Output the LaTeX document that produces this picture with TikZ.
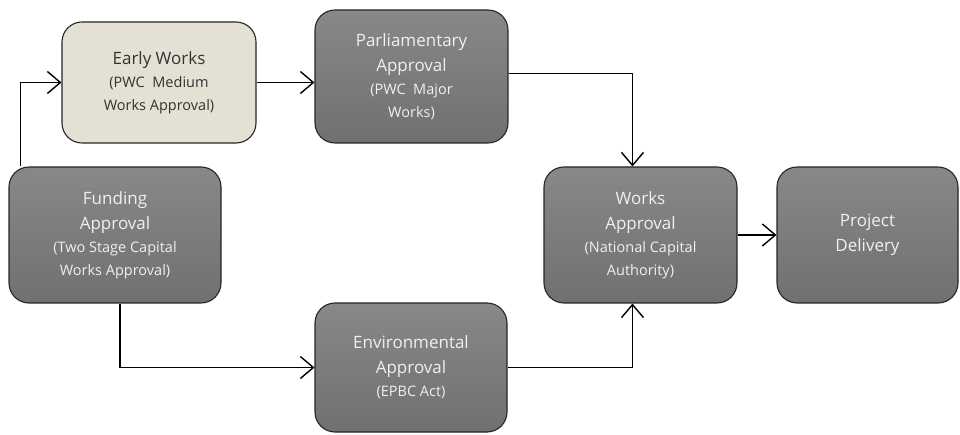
\documentclass[tikz,border=0pt]{standalone}
\usepackage{fontspec}
\setmainfont{Open Sans}
\usetikzlibrary{arrows.meta}
\definecolor{boxtop}{RGB}{136,136,136}
\definecolor{boxbot}{RGB}{112,112,112}
\definecolor{beige}{RGB}{229,224,212}
\definecolor{lighttext}{RGB}{240,240,240}
\newcommand{\mainsz}{\fontsize{17}{25}\selectfont}
\newcommand{\subsz}{\fontsize{14.5}{24}\selectfont}
\tikzset{
  box/.style={draw=black!85, line width=1.1pt, rounded corners=20pt, align=center,
    inner sep=2pt, font=\mainsz},
  darkbox/.style={box, top color=boxtop, bottom color=boxbot, text=lighttext},
  lightbox/.style={box, fill=beige, text=black!80},
  arr/.style={draw=black, line width=1.5pt, -{Straight Barb[length=13pt,width=22pt,line width=1.4pt]}}
}
\begin{document}
\begin{tikzpicture}[x=1pt,y=-1pt]
\useasboundingbox (0,0) rectangle (960,435);
\node[lightbox, minimum width=194pt, minimum height=121pt] (early) at (159,82.5)
  {Early Works\\[-2pt]{\subsz(PWC\ \ Medium}\\[-2pt]{\subsz Works Approval)}};
\node[darkbox, minimum width=193pt, minimum height=133pt] (parl) at (411.5,76.5)
  {Parliamentary\\Approval\\[-2pt]{\subsz(PWC\ \ Major}\\[-2pt]{\subsz Works)}};
\node[darkbox, minimum width=212pt, minimum height=136pt] (fund) at (115,235)
  {Funding\\Approval\\[-2pt]{\subsz(Two Stage Capital}\\[-2pt]{\subsz Works Approval)}};
\node[darkbox, minimum width=192pt, minimum height=129pt] (env) at (411,367.5)
  {Environmental\\Approval\\[-2pt]{\subsz(EPBC Act)}};
\node[darkbox, minimum width=193pt, minimum height=136pt] (works) at (640.5,235)
  {Works\\Approval\\[-2pt]{\subsz(National Capital}\\[-2pt]{\subsz Authority)}};
\node[darkbox, minimum width=181pt, minimum height=136pt] (deliv) at (867.5,235)
  {Project\\Delivery};
\draw[arr] ([xshift=12pt]fund.north west) |- (early.west);
\draw[arr] (early.east) -- (early.east -| parl.west);
\draw[arr] ([yshift=3pt]parl.east) -| ([xshift=-8pt]works.north);
\draw[arr] ([xshift=5pt]fund.south) |- (env.west);
\draw[arr] (env.east) -| ([xshift=-8pt]works.south);
\draw[arr] (works.east) -- (deliv.west);
\end{tikzpicture}
\end{document}
